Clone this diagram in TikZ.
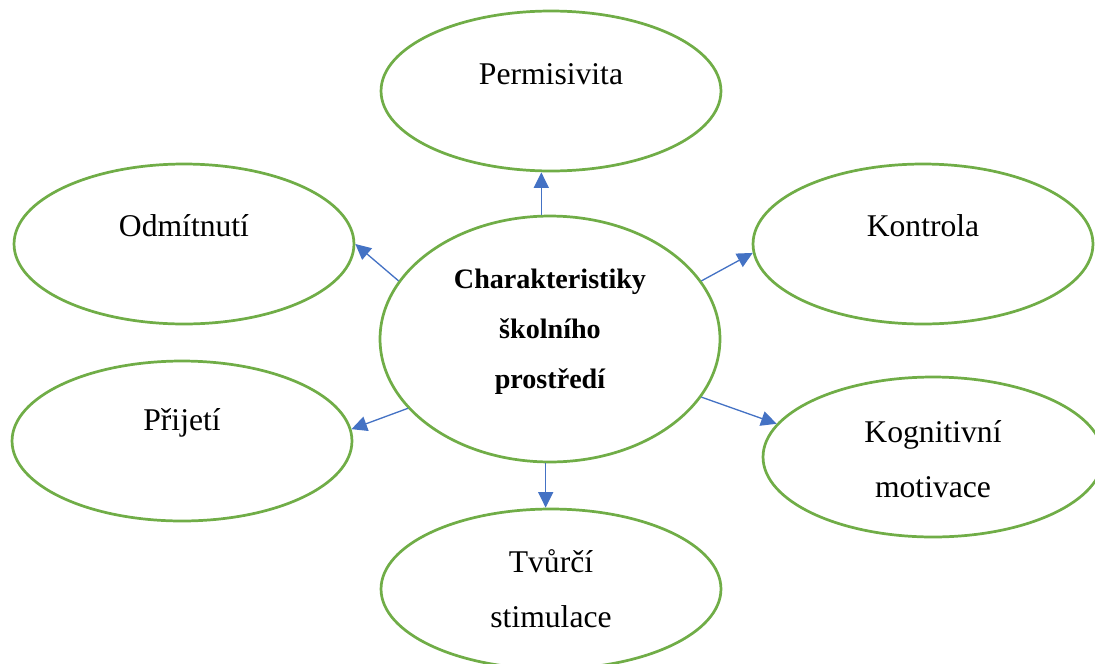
\documentclass[tikz,border=0pt]{standalone}
\usepackage{fontspec}
\setmainfont{Liberation Serif}
\usetikzlibrary{shapes.geometric,arrows.meta}
\definecolor{leafgreen}{HTML}{70AD47}
\definecolor{arrowblue}{HTML}{4472C4}
% lift a box visually without changing the size the node sees
\newcommand\liftby[2]{\raisebox{#1}[\height][\depth]{#2}}
\begin{document}
\begin{tikzpicture}[x=0.02cm,y=-0.02cm,
  bubble/.style={ellipse, draw=leafgreen, line width=1.55pt,
    minimum width=6.8cm, minimum height=3.2cm, inner sep=0pt,
    align=center, font=\fontsize{18}{31.3}\selectfont},
  hub/.style={bubble, minimum height=4.92cm,
    font=\bfseries\fontsize{16}{28.5}\selectfont},
  spoke/.style={draw=arrowblue, line width=0.75pt,
    -{Triangle[length=0.31cm,width=0.30cm]}}]
\useasboundingbox (0,0) rectangle (1095,663);
\clip (0,0) rectangle (1095,663);

% central ellipse
\node[hub] (c) at (550,339) {\liftby{0.21cm}{\begin{tabular}{@{}c@{}}Charakteristiky\\ školního\\ prostředí\end{tabular}}};

% surrounding ellipses
\node[bubble] (p) at (551,91)  {\liftby{0.34cm}{Permisivita}};
\node[bubble] (o) at (184,244) {\liftby{0.36cm}{Odmítnutí}};
\node[bubble] (k) at (923,244) {\liftby{0.36cm}{Kontrola}};
\node[bubble] (j) at (182,441) {\liftby{0.36cm}{Přijetí}};
\node[bubble] (m) at (933,457) {\liftby{-0.04cm}{\begin{tabular}{@{}c@{}}Kognitivní\\ motivace\end{tabular}}};
\node[bubble] (s) at (551,589) {Tvůrčí\\ stimulace};

% connectors from the centre outwards
\draw[spoke] (c.94)    -- (c.94 |- p.south);
\draw[spoke] (c.159)   -- (o.0);
\draw[spoke] (c.21.5)  -- (k.183);
\draw[spoke] (c.206)   -- (j.4);
\draw[spoke] (c.339.3) -- (m.168.3);
\draw[spoke] (c.268.3) -- (c.268.3 |- s.north);
\end{tikzpicture}
\end{document}
